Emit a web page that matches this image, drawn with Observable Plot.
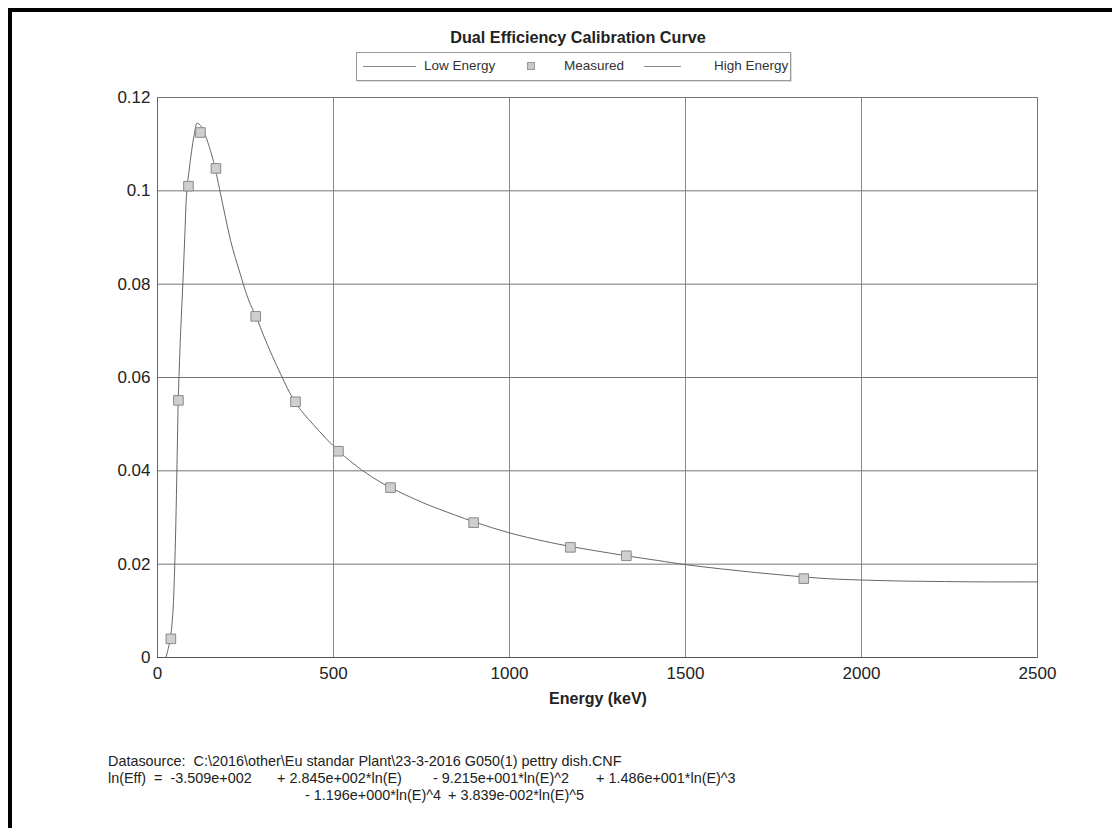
<!DOCTYPE html>
<html>
<head>
<meta charset="utf-8">
<script src="https://cdn.jsdelivr.net/npm/d3@7"></script>
<script src="https://cdn.jsdelivr.net/npm/@observablehq/plot@0.6"></script>
<style>
  html, body { margin: 0; padding: 0; background: #fff; }
  #page { position: relative; width: 1112px; height: 828px; overflow: hidden; background: #fff;
          font-family: "Liberation Sans", Arial, sans-serif; color: #222; }
  #border { position: absolute; left: 8px; top: 8px; width: 1200px; height: 900px; z-index: 5;
            border-left: 4px solid #000; border-top: 4px solid #000; pointer-events: none; }
  #title { position: absolute; left: 378px; width: 400px; top: 28px; text-align: center;
           font-weight: bold; font-size: 16.2px; color: #222; }
  #legend { position: absolute; left: 356px; top: 52px; width: 433px; height: 27px;
            border: 1px solid #999; box-shadow: 1px 1px 0 #ddd; }
  .lg { position: absolute; font-size: 13.5px; color: #333; top: 5px; white-space: nowrap; }
  .ln { position: absolute; top: 13px; height: 0; border-top: 1px solid #888; }
  .sq { position: absolute; top: 9px; width: 6px; height: 6px; background: #c8c8c8; border: 1px solid #999; }
  #chart { position: absolute; left: 0; top: 85px; }
  #xlabel { position: absolute; left: 0; width: 1196px; top: 690px; text-align: center;
            font-weight: bold; font-size: 16px; color: #222; }
  .cap { position: absolute; font-size: 14.4px; color: #222; white-space: pre; }
</style>
</head>
<body>
<div id="page">
  <div id="border"></div>
  <div id="title"></div>
  <div id="legend"></div>
  <div id="chart"></div>
  <div id="xlabel"></div>
  <div id="caption"></div>
</div>
<script>
// ---- Data ----
const titleText = "Dual Efficiency Calibration Curve";
const legendLabels = ["Low Energy", "Measured", "High Energy"];
const xLabel = "Energy (keV)";

// Measured calibration points (Energy keV, efficiency)
const measuredE   = [38, 59.5, 88, 122, 166, 279, 392, 514, 662, 898, 1173, 1332, 1836];
const measuredEff = [0.0040, 0.0551, 0.1010, 0.1125, 0.1048, 0.0731, 0.0548, 0.0442, 0.0364, 0.0289, 0.0236, 0.0218, 0.0169];

// Low-energy fitted curve
const lowE   = [24.1, 35.5, 42.0, 45.5, 49.4, 52.3, 55.1, 57.7, 58.8, 61.1, 65.9, 72.2, 77.6, 83.2, 89.5, 96.6, 104.0, 112.8, 122.2, 132.1, 141.2];
const lowEff = [0.0, 0.0036, 0.0079, 0.0122, 0.0208, 0.0294, 0.0401, 0.0507, 0.0550, 0.0602, 0.0701, 0.0804, 0.0904, 0.1000, 0.1042, 0.1084, 0.1119, 0.1145, 0.1140, 0.1127, 0.1108];

// High-energy fitted curve
const highE   = [141.2, 150.6, 159.1, 167.6, 179.0, 193.2, 207.4, 221.6, 235.8, 250.0, 264.2, 280.4, 306.8, 349.4, 392, 444, 515, 580, 633, 662, 750, 800, 898, 1000, 1100, 1173, 1250, 1332, 1420, 1500, 1600, 1700, 1800, 1900, 2000, 2100, 2200, 2350, 2500];
const highEff = [0.1108, 0.1086, 0.1063, 0.1035, 0.0994, 0.0943, 0.0894, 0.0855, 0.0820, 0.0785, 0.0756, 0.0730, 0.0680, 0.0608, 0.0546, 0.0498, 0.0442, 0.0402, 0.0376, 0.0364, 0.0333, 0.0318, 0.0291, 0.0267, 0.0249, 0.0238, 0.0228, 0.0218, 0.0208, 0.0199, 0.0190, 0.0182, 0.0175, 0.0169, 0.0166, 0.0164, 0.0163, 0.0162, 0.0162];

const xTicks = [0, 500, 1000, 1500, 2000, 2500];
const yTicks = [0, 0.02, 0.04, 0.06, 0.08, 0.1, 0.12];

const captionLines = [
  {x: 108, y: 753, t: "Datasource:  C:\\2016\\other\\Eu standar Plant\\23-3-2016 G050(1) pettry dish.CNF"},
  {x: 108, y: 770, t: "ln(Eff)  =  -3.509e+002"},
  {x: 277, y: 770, t: "+ 2.845e+002*ln(E)"},
  {x: 433, y: 770, t: "- 9.215e+001*ln(E)^2"},
  {x: 596, y: 770, t: "+ 1.486e+001*ln(E)^3"},
  {x: 305, y: 787, t: "- 1.196e+000*ln(E)^4"},
  {x: 448, y: 787, t: "+ 3.839e-002*ln(E)^5"}
];

// ---- Build tables ----
const measured = measuredE.map((e, i) => ({e, eff: measuredEff[i]}));
const low = lowE.map((e, i) => ({e, eff: lowEff[i]}));
const high = highE.map((e, i) => ({e, eff: highEff[i]}));

// ---- Title, legend, labels ----
document.getElementById("title").textContent = titleText;
document.getElementById("xlabel").textContent = xLabel;
const lg = document.getElementById("legend");
lg.innerHTML =
  `<div class="ln" style="left:6px;width:53px"></div>` +
  `<div class="lg" style="left:67px">${legendLabels[0]}</div>` +
  `<div class="sq" style="left:170px"></div>` +
  `<div class="lg" style="left:207px">${legendLabels[1]}</div>` +
  `<div class="ln" style="left:287px;width:37px"></div>` +
  `<div class="lg" style="left:357px">${legendLabels[2]}</div>`;
const cap = document.getElementById("caption");
captionLines.forEach(c => {
  const d = document.createElement("div");
  d.className = "cap";
  d.style.left = c.x + "px";
  d.style.top = c.y + "px";
  d.textContent = c.t;
  cap.appendChild(d);
});

// ---- Plot ----
const chart = Plot.plot({
  width: 1112,
  height: 620,
  marginLeft: 157,
  marginRight: 75,
  marginTop: 12,
  marginBottom: 48,
  style: {fontFamily: "'Liberation Sans', Arial, sans-serif", fontSize: "17px", color: "#222", background: "transparent"},
  x: {domain: [0, 2500], ticks: xTicks, label: null},
  y: {domain: [0, 0.12], ticks: yTicks, label: null},
  marks: [
    Plot.gridX(xTicks, {stroke: "#888", strokeOpacity: 1, strokeWidth: 1}),
    Plot.gridY(yTicks, {stroke: "#777", strokeOpacity: 1, strokeWidth: 1}),
    Plot.frame({stroke: "#777", strokeWidth: 1}),
    Plot.ruleY([0], {stroke: "#555", strokeWidth: 1.2}),
    Plot.ruleX([0], {stroke: "#666", strokeWidth: 1}),
    Plot.axisX(xTicks, {tickSize: 0, tickPadding: 9, tickFormat: d => String(d), fill: "#222", fontSize: 17}),
    Plot.axisY(yTicks, {tickSize: 0, tickPadding: 7, tickFormat: d => String(d), fill: "#222", fontSize: 17}),
    Plot.line(low, {x: "e", y: "eff", stroke: "#666", strokeWidth: 1, curve: "catmull-rom"}),
    Plot.line(high, {x: "e", y: "eff", stroke: "#666", strokeWidth: 1, curve: "catmull-rom"}),
    Plot.dot(measured, {x: "e", y: "eff", symbol: "square", r: 5.4, fill: "#cfcfcf", stroke: "#888", strokeWidth: 1})
  ]
});
document.getElementById("chart").appendChild(chart);
</script>
</body>
</html>
